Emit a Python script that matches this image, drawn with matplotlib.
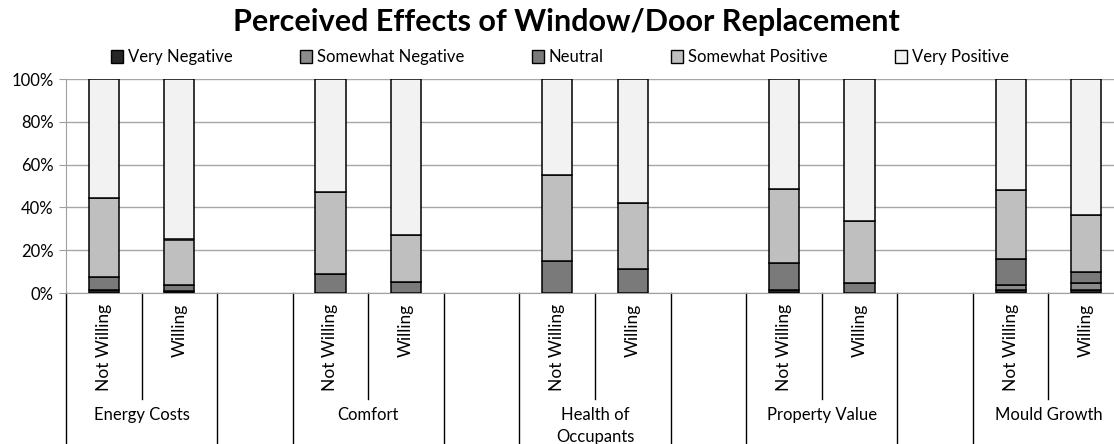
import numpy as np
import matplotlib.pyplot as plt
from matplotlib.patches import Patch

plt.rcParams['font.family'] = ['Lato', 'DejaVu Sans']

groups = ["Energy Costs", "Comfort", "Health of\nOccupants", "Property Value", "Mould Growth"]
subgroups = ["Not Willing", "Willing"]

series = ["Very Negative", "Somewhat Negative", "Neutral", "Somewhat Positive", "Very Positive"]
colors = ["#262626", "#8c8c8c", "#7a7a7a", "#bfbfbf", "#f2f2f2"]

# percent per bar, order: group by group, Not Willing then Willing
very_neg = [1.5, 1.0, 0, 0, 0, 0, 1.5, 0, 1.5, 1.5]
some_neg = [0, 0, 0, 0, 0, 0, 0, 0, 2.2, 3.2]
neutral = [6.0, 2.7, 8.9, 5.1, 15.0, 11.0, 12.5, 4.7, 12.3, 5.1]
some_pos = [37.0, 21.3, 38.1, 21.9, 40.0, 31.0, 34.5, 28.8, 32.0, 26.7]
very_pos = [55.5, 75.0, 53.0, 73.0, 45.0, 58.0, 51.5, 66.5, 52.0, 63.5]

# each group takes 3 slots: two bars and one blank slot
x = np.array([g * 3 + j + 0.5 for g in range(len(groups)) for j in range(len(subgroups))])

fig = plt.figure(figsize=(11.14, 4.44), dpi=100)
ax = fig.add_axes([66 / 1114, 151 / 444, 1058 / 1114, 214 / 444])

bottom = np.zeros(len(x))
for vals, col in zip([very_neg, some_neg, neutral, some_pos, very_pos], colors):
    vals = np.array(vals)
    ax.bar(x, vals, 0.4, bottom=bottom, color=col, edgecolor="black", linewidth=1.1, zorder=3)
    bottom += vals

ax.set_xlim(0, 3 * len(groups) - 1)
ax.set_ylim(0, 100)
ax.set_yticks(np.arange(0, 101, 20))
ax.set_yticklabels([f"{v}%" for v in range(0, 101, 20)], fontsize=12)
ax.yaxis.grid(True, color="#a6a6a6", linewidth=1, zorder=0)
ax.tick_params(axis="y", length=5, color="#a0a0a0", pad=4)
ax.set_xticks([])
for s in ["top", "right"]:
    ax.spines[s].set_visible(False)
ax.spines["left"].set_color("#a0a0a0")
ax.spines["bottom"].set_color("#a0a0a0")

# category axis below the plot
for g in range(len(groups)):
    for b in [g * 3, g * 3 + 2]:
        ax.plot([b, b], [0, -75], color="black", lw=1, clip_on=False)
    ax.plot([g * 3 + 1, g * 3 + 1], [0, -49.5], color="black", lw=1, clip_on=False)
    for j, sub in enumerate(subgroups):
        ax.text(g * 3 + j + 0.5, -5.0, sub, rotation=90, ha="center", va="top", fontsize=12.5)
    ax.text(g * 3 + 1, -53.5, groups[g], ha="center", va="top", fontsize=12,
            linespacing=1.4, clip_on=False)

fig.text(566 / 1114, 1 - 22 / 444, "Perceived Effects of Window/Door Replacement",
         ha="center", va="center", fontsize=22, fontweight="bold")

handles = [Patch(facecolor=c, edgecolor="black", linewidth=1) for c in colors]
fig.legend(handles, series, loc="lower left", ncol=5, mode="expand", frameon=False,
           bbox_to_anchor=(104 / 1114, 372 / 444, 912 / 1114, 0.05),
           fontsize=12, handlelength=0.75, handleheight=0.75, handletextpad=0.3,
           borderaxespad=0)

fig.savefig("out.png", dpi=100)
